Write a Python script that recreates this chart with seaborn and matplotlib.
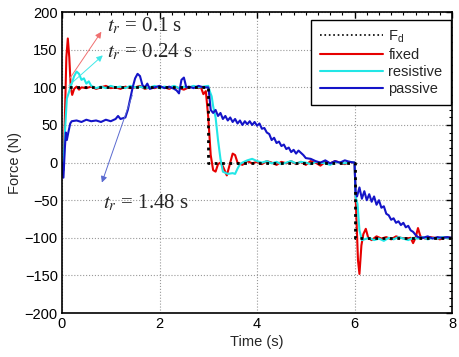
import numpy as np
import pandas as pd
import matplotlib.pyplot as plt
import seaborn as sns
from matplotlib.ticker import MultipleLocator

sns.set_theme(style="white")
plt.rcParams['font.family'] = ['Liberation Sans', 'DejaVu Sans']
plt.rcParams['mathtext.fontset'] = 'stix'

# ---------------------------------------------------------------------------
# data
# ---------------------------------------------------------------------------
fd_t = [0, 3, 3, 6, 6, 8]
fd_f = [100, 100, 0, 0, -100, -100]

fixed_t = [0, 0.03, 0.06, 0.09, 0.12, 0.15, 0.18, 0.21, 0.25, 0.3, 0.35, 0.4,
           0.5, 0.6, 0.7, 0.8, 0.9, 1.0, 1.1, 1.2, 1.3, 1.4, 1.5, 1.6, 1.7,
           1.8, 1.9, 2.0, 2.1, 2.2, 2.3, 2.4, 2.5, 2.6, 2.7, 2.8, 2.85, 2.9,
           2.95, 3.0, 3.05, 3.1, 3.15, 3.2, 3.25, 3.3, 3.38, 3.43, 3.5, 3.55,
           3.6, 3.7, 3.8, 3.9, 4.0, 4.1, 4.2, 4.3, 4.4, 4.5, 4.6, 4.7, 4.8,
           4.9, 5.0, 5.1, 5.2, 5.3, 5.4, 5.5, 5.6, 5.7, 5.8, 5.9, 5.97, 6.0,
           6.03, 6.07, 6.1, 6.14, 6.18, 6.23, 6.28, 6.35, 6.45, 6.55, 6.65,
           6.75, 6.85, 6.95, 7.05, 7.15, 7.2, 7.25, 7.3, 7.35, 7.45, 7.55,
           7.65, 7.75, 7.85, 8.0]
fixed_f = [0, -10, 60, 140, 165, 140, 100, 90, 98, 101, 97, 100,
           99, 101, 98, 100, 102, 99, 100, 98, 101, 99, 100, 102, 98,
           100, 99, 101, 100, 98, 101, 99, 97, 100, 101, 99, 100, 91,
           95, 60, 10, -10, -12, -2, 0, -5, -17, -5, 12, 10,
           0, -3, 2, -1, 1, -2, 2, 0, -3, 1, -1, 2, -2,
           1, -3, 2, 0, -4, 1, -1, 2, 0, -2, 1, 0, 0,
           -60, -130, -148, -110, -95, -88, -100, -103, -98, -101, -99,
           -102, -98, -100, -101, -100, -107, -100, -87, -98, -101, -99,
           -100, -102, -99, -100]

resist_t = [0, 0.03, 0.06, 0.1, 0.15, 0.2, 0.25, 0.3, 0.35, 0.4, 0.45, 0.5,
            0.55, 0.6, 0.7, 0.8, 0.9, 1.0, 1.1, 1.2, 1.3, 1.4, 1.5, 1.6,
            1.7, 1.8, 1.9, 2.0, 2.1, 2.2, 2.3, 2.4, 2.5, 2.6, 2.7, 2.8,
            2.9, 3.0, 3.03, 3.07, 3.1, 3.15, 3.2, 3.25, 3.3, 3.4, 3.5, 3.55,
            3.6, 3.65, 3.7, 3.8, 3.9, 4.0, 4.1, 4.2, 4.3, 4.4, 4.5, 4.6,
            4.7, 4.8, 4.9, 5.0, 5.1, 5.2, 5.3, 5.4, 5.5, 5.6, 5.7, 5.8,
            5.9, 6.0, 6.02, 6.06, 6.1, 6.15, 6.2, 6.3, 6.4, 6.5, 6.6, 6.7,
            6.8, 6.9, 7.0, 7.1, 7.2, 7.3, 7.4, 7.5, 7.6, 7.7, 7.8, 7.9, 8.0]
resist_f = [-15, -10, 40, 85, 95, 105, 115, 121, 118, 110, 112, 105,
            108, 102, 99, 101, 99, 102, 100, 101, 99, 102, 100, 101,
            99, 100, 102, 99, 101, 100, 102, 99, 101, 100, 102, 100,
            101, 102, 95, 88, 75, 60, 30, 5, -12, -15, -14, -15,
            -8, -2, 0, 3, 5, 2, 0, 2, -1, 1, -2, 0,
            2, -1, 1, 0, -2, 1, 0, -1, -3, 1, 0, -1,
            1, 0, -45, -55, -90, -103, -102, -100, -103, -101, -104, -100,
            -102, -99, -101, -103, -100, -101, -99, -102, -100, -101, -99, -100, -100]

passive_t = [0, 0.03, 0.06, 0.08, 0.1, 0.13, 0.17, 0.2, 0.3, 0.4, 0.5, 0.6,
             0.7, 0.8, 0.9, 1.0, 1.1, 1.15, 1.2, 1.3, 1.35, 1.4, 1.45, 1.5,
             1.55, 1.6, 1.65, 1.7, 1.75, 1.8, 1.9, 2.0, 2.1, 2.2, 2.3, 2.35,
             2.4, 2.45, 2.5, 2.55, 2.6, 2.7, 2.8, 2.9, 3.0, 3.02, 3.05, 3.1,
             3.15, 3.2, 3.25, 3.3, 3.35, 3.4, 3.45, 3.5, 3.55, 3.6, 3.65,
             3.7, 3.75, 3.8, 3.85, 3.9, 3.95, 4.0, 4.05, 4.1, 4.15, 4.2,
             4.25, 4.3, 4.35, 4.4, 4.45, 4.5, 4.55, 4.6, 4.65, 4.7, 4.75,
             4.8, 4.85, 4.9, 4.95, 5.0, 5.1, 5.2, 5.3, 5.4, 5.5, 5.6, 5.7,
             5.8, 5.9, 6.0, 6.02, 6.05, 6.1, 6.15, 6.2, 6.25, 6.3, 6.35,
             6.4, 6.45, 6.5, 6.55, 6.6, 6.65, 6.7, 6.75, 6.8, 6.85, 6.9,
             6.95, 7.0, 7.05, 7.1, 7.15, 7.2, 7.25, 7.3, 7.4, 7.5, 7.6, 7.7,
             7.8, 7.9, 8.0]
passive_f = [0, -20, 20, 40, 30, 40, 52, 55, 56, 54, 57, 55,
             56, 54, 57, 55, 58, 62, 58, 60, 70, 85, 100, 112,
             118, 115, 103, 100, 105, 98, 100, 102, 99, 101, 98, 96,
             92, 110, 113, 100, 101, 99, 102, 100, 100, 90, 70, 66,
             70, 62, 66, 58, 62, 56, 60, 54, 58, 52, 56,
             50, 55, 51, 55, 50, 54, 49, 52, 45, 46, 40,
             38, 30, 33, 26, 28, 22, 24, 18, 20, 14, 17,
             12, 16, 13, 10, 6, 5, 2, 0, 3, -1, 2, 0,
             3, 1, 0, -40, -45, -33, -48, -38, -50, -42, -52,
             -45, -56, -50, -60, -58, -68, -70, -76, -74, -80, -78,
             -83, -80, -86, -84, -90, -92, -96, -99, -100, -98, -101, -99,
             -100, -99, -100]

series = {
    'fixed': (fixed_t, fixed_f, '#e60000'),
    'resistive': (resist_t, resist_f, '#22e6e6'),
    'passive': (passive_t, passive_f, '#1414c8'),
}

# ---------------------------------------------------------------------------
fig = plt.figure(figsize=(4.59, 3.57), dpi=100)
ax = fig.add_axes([0.135, 0.123, 0.850, 0.843])

sns.lineplot(x=fd_t, y=fd_f, ax=ax, color='black', lw=2.0, linestyle=':',
             label=r'F$_\mathregular{d}$', sort=False, estimator=None, zorder=5)
for name, (t, f, col) in series.items():
    sns.lineplot(x=t, y=f, ax=ax, color=col, lw=1.5, label=name,
                 sort=False, estimator=None)

ax.set_xlim(0, 8)
ax.set_ylim(-200, 200)
ax.xaxis.set_major_locator(MultipleLocator(2))
ax.xaxis.set_minor_locator(MultipleLocator(0.25))
ax.yaxis.set_major_locator(MultipleLocator(50))
ax.yaxis.set_minor_locator(MultipleLocator(10))
ax.tick_params(which='both', direction='in', top=True, right=True,
               labelsize=10.5, colors='black', pad=3)
ax.tick_params(which='major', length=4, width=1)
ax.tick_params(which='minor', length=2, width=0.8)
ax.grid(which='major', linestyle=':', color='#999999', lw=0.8)
for s in ax.spines.values():
    s.set_color('black')
    s.set_linewidth(1.2)

ax.set_xlabel('Time (s)', fontsize=10.5, labelpad=3)
ax.set_ylabel('Force (N)', fontsize=10.5, labelpad=2)

# rise time annotations
txt = dict(fontsize=15, family='Liberation Serif', va='center', ha='left')
ax.annotate('', xy=(0.84, 177), xytext=(0.12, 108),
            arrowprops=dict(arrowstyle='-|>', color='#f07070', lw=0.7,
                            mutation_scale=9))
ax.text(0.93, 181, r'$t_r$ = 0.1 s', **txt)
ax.annotate('', xy=(0.88, 145), xytext=(0.1, 100),
            arrowprops=dict(arrowstyle='-|>', color='#40e8e8', lw=0.7,
                            mutation_scale=9))
ax.text(0.92, 147, r'$t_r$ = 0.24 s', **txt)
ax.annotate('', xy=(0.8, -30), xytext=(1.46, 93),
            arrowprops=dict(arrowstyle='-|>', color='#5a6ad0', lw=0.7,
                            mutation_scale=9))
ax.text(0.84, -53, r'$t_r$ = 1.48 s', **txt)

leg = ax.legend(loc='upper right', bbox_to_anchor=(0.998, 0.975), fontsize=10.5,
                frameon=True, fancybox=False, edgecolor='black',
                handlelength=4.3, borderaxespad=0, labelspacing=0.22,
                handletextpad=0.4, borderpad=0.6)
leg.get_frame().set_linewidth(1.0)
leg.get_frame().set_alpha(1)
leg.get_lines()[0].set_linewidth(1.2)

fig.savefig('out.png', dpi=100)
